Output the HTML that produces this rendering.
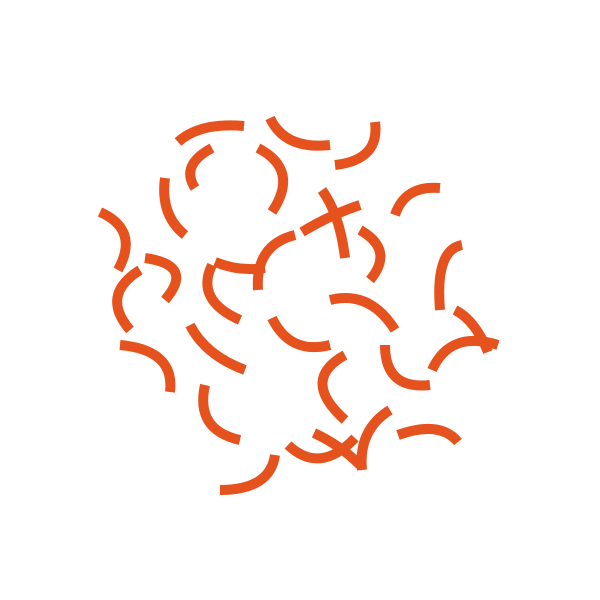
<!DOCTYPE html>
<html>
<head>
<meta charset="utf-8">
<style>
html,body{margin:0;padding:0;background:#fff;}
svg{display:block;}
path{fill:none;stroke:#e5521d;stroke-width:10;stroke-linecap:butt;}
</style>
</head>
<body>
<svg width="600" height="600" viewBox="0 0 600 600">
<g id="strips"></g>
</svg>
<script>
const strips = [
 [178,142,200,122,244,126],
 [212,148,180,165,195,188],
 [165,178,160,215,185,235],
 [270,118,285,150,330,145],
 [335,165,380,160,375,122],
 [258,148,300,170,272,212],
 [302,232,330,215,360,205],
 [322,190,340,215,345,258],
 [395,215,405,185,440,188],
 [360,230,395,250,370,280],
 [100,212,140,230,118,270],
 [145,258,195,265,165,300],
 [140,270,100,295,130,330],
 [212,265,195,300,240,320],
 [215,262,240,272,265,268],
 [258,290,255,245,295,235],
 [462,245,435,250,440,310],
 [330,300,370,290,395,330],
 [272,318,290,355,330,345],
 [190,325,205,355,245,370],
 [120,345,175,350,170,392],
 [345,355,300,380,345,420],
 [385,345,385,390,430,385],
 [432,370,450,330,498,345],
 [455,310,475,320,488,352],
 [205,385,195,430,240,440],
 [220,490,270,490,275,455],
 [288,445,320,475,355,438],
 [362,470,358,430,390,410],
 [398,435,440,420,458,442],
 [314,433,340,445,360,465]
];
const g = document.getElementById('strips');
const ns = 'http://www.w3.org/2000/svg';
strips.forEach((s) => {
  const p = document.createElementNS(ns, 'path');
  p.setAttribute('d', `M${s[0]} ${s[1]} Q${s[2]} ${s[3]} ${s[4]} ${s[5]}`);
  
  
  g.appendChild(p);
});
</script>
</body>
</html>
